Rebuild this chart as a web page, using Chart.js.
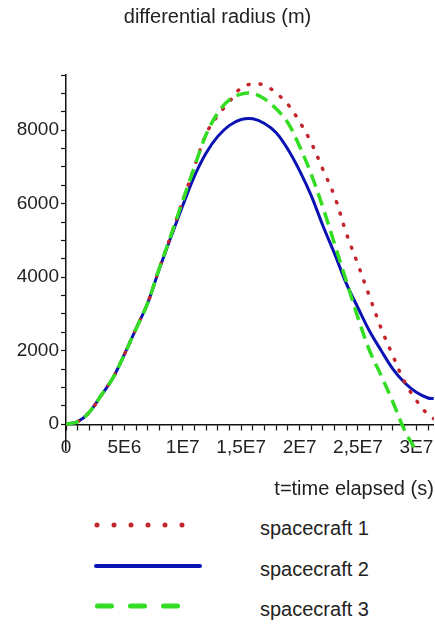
<!DOCTYPE html>
<html>
<head>
<meta charset="utf-8">
<script src="https://cdn.jsdelivr.net/npm/chart.js@4"></script>
<style>
  body { margin: 0; background: #fff; font-family: 'Liberation Sans', Arial, sans-serif; }
  #wrap { position: relative; width: 435px; height: 500px; }
  #legend { position: absolute; left: 0; top: 500px; width: 435px; height: 124px; }
  .row { position: absolute; left: 0; width: 435px; height: 40px; }
  .row svg { position: absolute; left: 80px; top: 0; }
  .row span { position: absolute; left: 260px; top: 12px; font-size: 20px; line-height: 23px; color: #222; }
</style>
</head>
<body>
<div id="wrap"><canvas id="myChart" width="435" height="500"></canvas></div>
<div id="legend"></div>
<script>
// time in millions of seconds
const tMillions = [0, 1, 2, 3, 4, 5, 6, 7, 8, 9, 10, 11, 12, 13, 14, 15, 16, 17, 18, 19, 20,
                   21, 22, 23, 24, 25, 26, 27, 28, 29, 30, 31, 31.5];

const spacecraft1 = [0, 70, 330, 780, 1250, 1900, 2600, 3300, 4250, 5150, 6080, 7000, 7900, 8400, 8780, 9150, 9260,
                     9220, 9010, 8700, 8230, 7660, 6930, 6200, 5200, 4350, 3470, 2600, 1860, 1150, 650, 260, 150];
const spacecraft2 = [0, 70, 330, 780, 1250, 1900, 2600, 3300, 4230, 5100, 5950, 6750, 7380, 7830, 8130, 8290, 8310,
                     8180, 7930, 7480, 6900, 6220, 5400, 4640, 3830, 3170, 2530, 2000, 1500, 1130, 870, 715, 700];
// spacecraft 3 leaves the plot below zero
const t3Millions = [0, 1, 2, 3, 4, 5, 6, 7, 8, 9, 10, 11, 12, 13, 14, 15, 16, 17, 18, 19, 20,
                    21, 22, 23, 24, 25, 26, 27, 28, 29, 29.8];
const spacecraft3 = [0, 70, 330, 780, 1250, 1900, 2600, 3300, 4250, 5150, 6080, 7000, 7880, 8470, 8830, 8980, 9000,
                     8850, 8580, 8200, 7560, 6800, 5900, 4900, 3900, 2900, 2000, 1320, 600, -170, -620];

const seriesNames = ['spacecraft 1', 'spacecraft 2', 'spacecraft 3'];
const seriesColors = ['#c4262e', '#0b12b4', '#33dd22'];

const xTickValues = [0, 5e6, 1e7, 1.5e7, 2e7, 2.5e7, 3e7];
const xTickLabels = ['0', '5E6', '1E7', '1,5E7', '2E7', '2,5E7', '3E7'];
const yTickValues = [0, 2000, 4000, 6000, 8000];

const fam = "'Liberation Sans', Arial, sans-serif";

function toPoints(ts, vs) {
    return ts.map((t, i) => ({ x: t * 1e6, y: vs[i] }));
}

// minor tick marks (labels only on the listed values)
function setTicks(scale, from, to, step) {
    const ticks = [];
    for (let v = from; v <= to; v += step) ticks.push({ value: v });
    scale.ticks = ticks;
}

const ctx = document.getElementById('myChart').getContext('2d');
const myChart = new Chart(ctx, {
    type: 'line',
    data: {
        datasets: [
            {
                label: seriesNames[0],
                data: toPoints(tMillions, spacecraft1),
                borderColor: seriesColors[0],
                borderWidth: 3.5,
                borderDash: [1, 11],
                borderCapStyle: 'round',
                order: 1
            },
            {
                label: seriesNames[1],
                data: toPoints(tMillions, spacecraft2),
                borderColor: seriesColors[1],
                borderWidth: 3,
                order: 2
            },
            {
                label: seriesNames[2],
                data: toPoints(t3Millions, spacecraft3),
                borderColor: seriesColors[2],
                borderWidth: 3.5,
                borderDash: [13, 7],
                order: 0
            }
        ]
    },
    options: {
        responsive: false,
        animation: false,
        elements: { point: { radius: 0 }, line: { tension: 0.35 } },
        layout: { padding: { left: 0, right: 0, top: 0, bottom: 50 } },
        plugins: {
            legend: { display: false },
            tooltip: { enabled: false },
            title: {
                display: true,
                text: 'differential radius (m)',
                color: '#222',
                font: { family: fam, size: 20, weight: 'normal' },
                padding: { top: 5, bottom: 46 }
            }
        },
        scales: {
            x: {
                type: 'linear',
                position: { y: 0 },
                min: 0,
                max: 31.5e6,
                afterBuildTicks: s => setTicks(s, 0, 31e6, 1e6),
                border: { color: '#111', width: 1.5 },
                grid: { drawOnChartArea: false, tickLength: 5, color: '#111', tickWidth: 1.2 },
                ticks: {
                    autoSkip: false,
                    maxRotation: 0,
                    padding: 7,
                    color: '#222',
                    font: { family: fam, size: 19 },
                    callback: v => {
                        const k = xTickValues.indexOf(v);
                        return k >= 0 ? xTickLabels[k] : '';
                    }
                },
                title: {
                    display: true,
                    align: 'end',
                    text: 't=time elapsed (s)',
                    color: '#222',
                    font: { family: fam, size: 20 },
                    padding: { top: 11 }
                }
            },
            y: {
                min: -700,
                max: 9500,
                afterFit: s => { s.width = 66; },
                afterBuildTicks: s => setTicks(s, 0, 9500, 500),
                border: { color: '#111', width: 1.5 },
                grid: { drawOnChartArea: false, tickLength: 5, color: '#111', tickWidth: 1.2 },
                ticks: {
                    autoSkip: false,
                    padding: 2,
                    color: '#222',
                    font: { family: fam, size: 19 },
                    callback: v => yTickValues.includes(v) ? String(v) : ''
                }
            }
        }
    }
});

// legend below the chart
const legendDiv = document.getElementById('legend');
const rowTops = [5, 46, 86];
const dashes = ['0 17', '', '14 19'];
const widths = [5, 4, 5];
const lineEnds = [[17, 103], [16, 120], [17.5, 100]];
seriesNames.forEach((name, i) => {
    const row = document.createElement('div');
    row.className = 'row';
    row.style.top = rowTops[i] + 'px';
    const [x1, x2] = lineEnds[i];
    row.innerHTML =
        `<svg width="140" height="40"><line x1="${x1}" y1="20" x2="${x2}" y2="20" stroke="${seriesColors[i]}"
          stroke-width="${widths[i]}" stroke-linecap="round" ${dashes[i] ? `stroke-dasharray="${dashes[i]}"` : ''}/></svg>
         <span>${name}</span>`;
    legendDiv.appendChild(row);
});
</script>
</body>
</html>
